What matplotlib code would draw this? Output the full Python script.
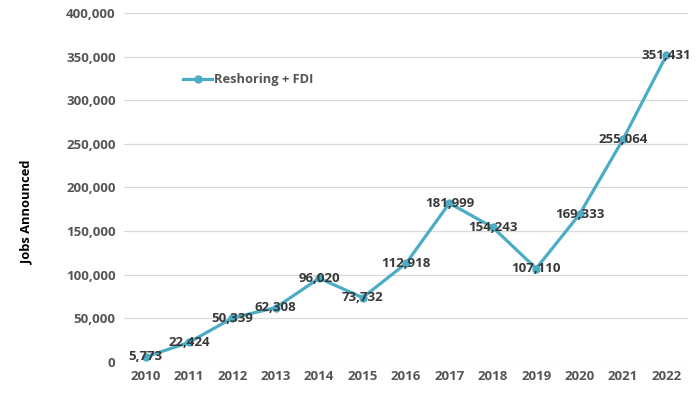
import matplotlib
matplotlib.use("Agg")
import matplotlib.pyplot as plt
from matplotlib.ticker import FuncFormatter

years = ["2010", "2011", "2012", "2013", "2014", "2015", "2016",
         "2017", "2018", "2019", "2020", "2021", "2022"]
jobs = [5773, 22424, 50339, 62308, 96020, 73732, 112918,
        181999, 154243, 107110, 169333, 255064, 351431]
series_name = "Reshoring + FDI"
y_label = "Jobs Announced"

plt.rcParams['font.family'] = ['Open Sans', 'DejaVu Sans']

fig = plt.figure(figsize=(7, 3.93), dpi=100)
ax = fig.add_axes([0.177, 0.079, 0.806, 0.888])

line_color = "#4BACC6"
text_color = "#555555"

x = list(range(len(years)))
ax.plot(x, jobs, color=line_color, linewidth=2.3, marker="o",
        markersize=5, label=series_name, zorder=3)

for xi, v in zip(x, jobs):
    ax.text(xi, v, f"{v:,}", ha="center", va="center", fontsize=9.5,
            fontweight="bold", color="#383838", zorder=4)

ax.set_xlim(-0.5, len(years) - 0.5)
ax.set_ylim(0, 400000)
ax.set_yticks(range(0, 400001, 50000))
ax.yaxis.set_major_formatter(FuncFormatter(lambda v, p: f"{int(v):,}"))
ax.set_xticks(x)
ax.set_xticklabels(years)

ax.grid(axis="y", color="#d9d9d9", linewidth=0.9)
ax.set_axisbelow(True)
for s in ax.spines.values():
    s.set_visible(False)
ax.tick_params(axis="both", length=0, labelsize=9.5, labelcolor=text_color, pad=6)
for lab in ax.get_xticklabels() + ax.get_yticklabels():
    lab.set_fontweight("bold")

fig.text(0.039, 0.46, y_label, rotation=90, ha="center", va="center",
         fontsize=9.3, fontweight="bold", color="black")

leg = ax.legend(loc="upper left", bbox_to_anchor=(0.085, 0.86), frameon=False,
                fontsize=9.3, handlelength=2.2, handletextpad=0.2)
for t in leg.get_texts():
    t.set_color(text_color)
    t.set_fontweight("bold")

fig.savefig("out.png", dpi=100)
